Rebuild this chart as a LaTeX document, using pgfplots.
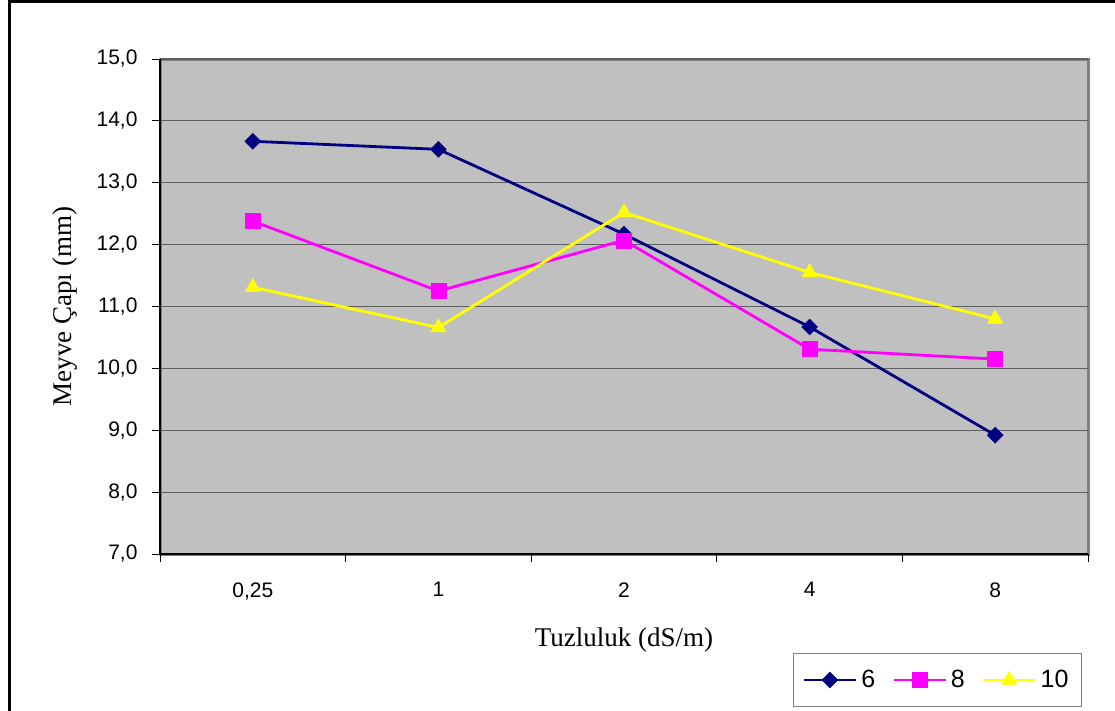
\documentclass[border=0pt]{standalone}
\usepackage{pgfplots}
\pgfplotsset{compat=1.18}
\usepackage{fontspec}
\setmainfont{Liberation Serif}
\newfontfamily\arialfont{Liberation Sans}

\definecolor{plotbg}{RGB}{192,192,192}
\definecolor{navyline}{RGB}{0,0,128}
\definecolor{magline}{RGB}{255,0,255}
\definecolor{yelline}{RGB}{255,255,0}
\definecolor{framegray}{RGB}{128,128,128}
\definecolor{gridgray}{RGB}{96,96,96}

\begin{document}
\begin{tikzpicture}[x=1pt,y=1pt]
\path[use as bounding box] (0,0) rectangle (1115,710);
% outer chart frame
\draw[line width=3pt] (9,-2) -- (9,708.5) -- (1117,708.5);
\begin{axis}[
  at={(160pt,156pt)}, anchor=south west,
  scale only axis, width=928pt, height=495pt,
  xmin=-0.5, xmax=4.5, ymin=7, ymax=15,
  axis x line*=bottom, axis y line*=left,
  axis line style={line width=1.5pt, black, -},
  axis background/.style={fill=plotbg, draw=framegray, line width=3pt},
  xtick={-0.5,0.5,1.5,2.5,3.5,4.5},
  x tick label as interval,
  xticklabels={{0,25},1,2,4,8},
  ytick={7,8,...,15},
  ymajorgrids,
  grid style={line width=1.2pt, gridgray},
  tick align=outside,
  major tick length=8pt,
  tick style={line width=1pt, black},
  /pgf/number format/assume math mode=true,
  yticklabel style={/pgf/number format/.cd, fixed, fixed zerofill, precision=1, use comma,
    /tikz/.cd, xshift=-11pt},
  xticklabel style={yshift=-17pt},
  tick label style={font=\arialfont\fontsize{21}{25}\selectfont},
  xlabel={Tuzluluk (dS/m)},
  ylabel={Meyve Çapı (mm)},
  label style={font=\fontsize{27}{32}\selectfont},
  xlabel style={at={(axis description cs:0.5,-0.1737)}, anchor=center},
  ylabel style={at={(axis description cs:-0.1024,0.5)}, anchor=center},
  legend columns=3,
  legend style={at={(0.9935,-0.2)}, anchor=north east,
    draw=framegray, line width=1pt,
    font=\arialfont\fontsize{25}{29}\selectfont,
    inner xsep=9pt, inner ysep=17pt,
    /tikz/every even column/.append style={column sep=13pt},
    nodes={inner xsep=4pt, inner ysep=0pt}},
  legend image code/.code={%
    \draw[mark repeat=2, mark phase=2] plot coordinates {(0pt,0pt) (26pt,0pt) (52pt,0pt)};},
]
\addplot[navyline, line width=2.8pt, mark=square*, mark size=5.6pt,
  mark options={solid, rotate=45, line width=0.5pt}]
  coordinates {(0,13.67) (1,13.54) (2,12.17) (3,10.67) (4,8.92)};
\addlegendentry{6}
\addplot[magline, line width=2.8pt, mark=square*, mark size=7.5pt,
  mark options={solid, line width=0.5pt}]
  coordinates {(0,12.38) (1,11.25) (2,12.07) (3,10.31) (4,10.15)};
\addlegendentry{8}
\addplot[yelline, line width=2.8pt, mark=triangle*, mark size=8.8pt,
  mark options={solid, line width=0.5pt}]
  coordinates {(0,11.31) (1,10.66) (2,12.52) (3,11.55) (4,10.80)};
\addlegendentry{10}
\end{axis}
\end{tikzpicture}
\end{document}
